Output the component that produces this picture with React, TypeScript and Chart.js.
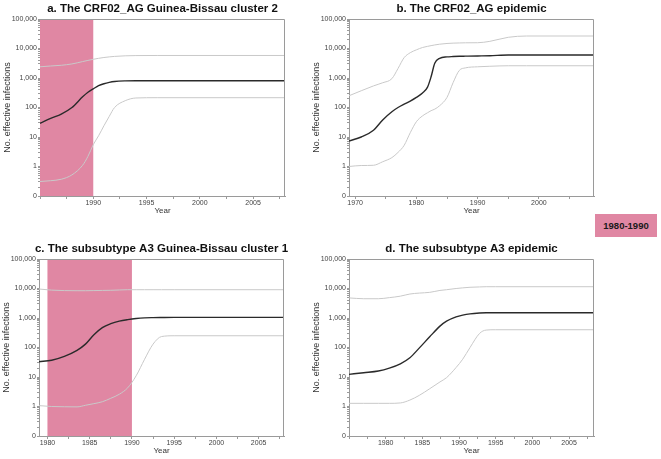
import React, { useEffect, useRef } from "react";
import Chart from "chart.js/auto";

// y axis ticks and their printed labels (0.1 is printed as "0")
const yTickValues = [0.1, 1, 10, 100, 1000, 10000, 100000];
const yTickLabels = ["0", "1", "10", "100", "1,000", "10,000", "100,000"];

// a. CRF02_AG Guinea-Bissau cluster 2
const yearsA = [1985, 1986, 1987, 1988, 1989, 1989.5, 1990, 1990.5, 1991, 1991.5, 1992, 1993, 1994, 1996, 2008];
const meanA = [29, 43, 60, 100, 230, 330, 430, 550, 640, 710, 760, 800, 810, 810, 810];
const upperA = [2400, 2550, 2700, 3000, 3600, 3950, 4300, 4650, 4950, 5200, 5400, 5650, 5750, 5800, 5800];
const lowerA = [0.31, 0.33, 0.37, 0.52, 1.1, 2.2, 5.5, 11, 24, 50, 100, 170, 210, 215, 215];
const xTicksA = [1990, 1995, 2000, 2005];

// b. CRF02_AG epidemic
const yearsB = [1969, 1971, 1973, 1974.5, 1976, 1977, 1978, 1979, 1980, 1981, 1981.8, 1982.4, 1983, 1983.8, 1985, 1986, 1987, 1988, 1990, 1992, 1995, 1998, 2009];
const meanB = [7.3, 10, 17, 38, 72, 100, 130, 165, 220, 310, 480, 1100, 3150, 4650, 5200, 5350, 5450, 5500, 5600, 5700, 6000, 6000, 6000];
const upperB = [250, 370, 540, 690, 950, 2100, 4900, 7200, 9000, 10800, 11800, 12500, 13200, 14000, 14800, 15200, 15400, 15600, 15700, 17500, 24000, 26500, 26500];
const lowerB = [1.0, 1.08, 1.1, 1.45, 2.0, 3.0, 5.2, 14, 33, 52, 66, 78, 88, 115, 220, 700, 1800, 2200, 2400, 2500, 2600, 2600, 2600];
const xTicksB = [1970, 1980, 1990, 2000];

// c. subsubtype A3 Guinea-Bissau cluster 1
const yearsC = [1979, 1980.5, 1982, 1983.5, 1984.5, 1985.5, 1986.5, 1987.5, 1988.5, 1989.5, 1990.5, 1991.5, 1992.5, 1993.5, 1995, 2008];
const meanC = [33, 37, 50, 80, 130, 270, 470, 640, 780, 880, 960, 1010, 1030, 1040, 1050, 1050];
const upperC = [9600, 8800, 8500, 8400, 8400, 8500, 8600, 8700, 8900, 9100, 9100, 9100, 9100, 9100, 9100, 9100];
const lowerC = [1.07, 1.0, 0.98, 0.97, 1.1, 1.25, 1.45, 1.9, 2.6, 4.3, 11, 40, 130, 235, 250, 250];
const xTicksC = [1980, 1985, 1990, 1995, 2000, 2005];

// d. subsubtype A3 epidemic
const yearsD = [1975, 1977, 1979, 1980.5, 1982, 1983.3, 1984.6, 1986, 1987.4, 1988.3, 1989.6, 1990.5, 1991.5, 1992.8, 1993.7, 1995, 2008.4];
const meanD = [12.3, 14, 16, 20, 28, 45, 97, 230, 530, 780, 1090, 1250, 1380, 1470, 1500, 1500, 1500];
const upperD = [4800, 4500, 4500, 4900, 5500, 6500, 7000, 7400, 8600, 9100, 10000, 10500, 11000, 11300, 11500, 11500, 11500];
const lowerD = [1.28, 1.28, 1.28, 1.28, 1.32, 1.65, 2.4, 4, 6.8, 9.5, 21, 40, 100, 300, 390, 400, 400];
const xTicksD = [1980, 1985, 1990, 1995, 2000, 2005];

// shaded period 1980-1990
const shadeStart = 1980;
const shadeEnd = 1990;
const shadeLabel = "1980-1990";

const PINK = "#e087a3";
const FONT = "'Liberation Sans', Arial, sans-serif";

const shadePlugin = {
  id: "shade",
  beforeDatasetsDraw(chart: any, _args: any, opts: any) {
    if (!opts || !opts.show) return;
    const { ctx, chartArea, scales } = chart;
    const x0 = Math.max(scales.x.getPixelForValue(shadeStart), chartArea.left);
    const x1 = scales.x.getPixelForValue(shadeEnd);
    ctx.save();
    ctx.fillStyle = PINK;
    ctx.fillRect(x0, chartArea.top, x1 - x0, chartArea.bottom - chartArea.top);
    ctx.restore();
  },
};

const framePlugin = {
  id: "frame",
  afterDatasetsDraw(chart: any) {
    const { ctx, chartArea } = chart;
    ctx.save();
    ctx.strokeStyle = "#9a9a9a";
    ctx.lineWidth = 1;
    ctx.beginPath();
    ctx.moveTo(chartArea.left, chartArea.top + 0.5);
    ctx.lineTo(chartArea.right - 0.5, chartArea.top + 0.5);
    ctx.lineTo(chartArea.right - 0.5, chartArea.bottom);
    ctx.stroke();
    ctx.restore();
  },
};

const minorLog: number[] = [];
for (let d = 0.1; d < 100000; d *= 10) {
  for (let k = 1; k < 10; k++) minorLog.push(Math.round(d * k * 1000) / 1000);
}
minorLog.push(100000);

interface PanelProps {
  title: string;
  years: number[];
  mean: number[];
  upper: number[];
  lower: number[];
  xMin: number;
  xMax: number;
  xStep: number;
  xTicks: number[];
  shaded: boolean;
  style: React.CSSProperties;
}

const Panel: React.FC<PanelProps> = ({ title, years, mean, upper, lower, xMin, xMax, xStep, xTicks, shaded, style }) => {
  const chartRef = useRef<HTMLCanvasElement | null>(null);

  useEffect(() => {
    if (!chartRef.current) return;
    const pts = (vals: number[]) => years.map((x, i) => ({ x, y: vals[i] }));
    const allX: number[] = [];
    for (let v = Math.ceil(xMin / xStep) * xStep; v <= xMax; v += xStep) allX.push(v);

    const chart = new Chart(chartRef.current, {
      type: "line",
      data: {
        datasets: [
          { data: pts(upper), borderColor: "#c9c9c9", borderWidth: 1, pointRadius: 0, cubicInterpolationMode: "monotone" },
          { data: pts(lower), borderColor: "#c9c9c9", borderWidth: 1, pointRadius: 0, cubicInterpolationMode: "monotone" },
          { data: pts(mean), borderColor: "#2a2a2a", borderWidth: 1.4, pointRadius: 0, cubicInterpolationMode: "monotone" },
        ],
      },
      options: {
        animation: false,
        responsive: false,
        events: [],
        layout: { padding: 0 },
        plugins: {
          legend: { display: false },
          tooltip: { enabled: false },
          title: {
            display: true,
            text: title,
            color: "#111",
            font: { family: FONT, size: 11.5, weight: "bold" },
            padding: { top: 1.5, bottom: 3.7 },
          },
          shade: { show: shaded },
        } as any,
        scales: {
          x: {
            type: "linear",
            min: xMin,
            max: xMax,
            afterFit: (s: any) => {
              s.height = 33;
            },
            afterBuildTicks: (s: any) => {
              s.ticks = allX.map((value) => ({ value }));
            },
            ticks: {
              autoSkip: false,
              maxRotation: 0,
              padding: 0,
              color: "#444",
              font: { family: FONT, size: 7 },
              callback: (v: any) => (xTicks.includes(Number(v)) ? String(v) : ""),
            },
            grid: { drawOnChartArea: false, drawTicks: true, tickLength: 3, color: "#9a9a9a" },
            border: { display: true, color: "#9a9a9a" },
            title: {
              display: true,
              text: "Year",
              color: "#333",
              font: { family: FONT, size: 8 },
              padding: { top: 0, bottom: 13 },
            },
          },
          y: {
            type: "logarithmic",
            min: 0.1,
            max: 100000,
            afterFit: (s: any) => {
              s.width = 40;
            },
            afterBuildTicks: (s: any) => {
              s.ticks = minorLog.map((value) => ({ value }));
            },
            ticks: {
              autoSkip: false,
              padding: 1,
              color: "#444",
              font: { family: FONT, size: 7 },
              callback: (v: any) => {
                const i = yTickValues.findIndex((t) => Math.abs(t - Number(v)) < 1e-6);
                return i >= 0 ? yTickLabels[i] : "";
              },
            },
            grid: { drawOnChartArea: false, drawTicks: true, tickLength: 2, color: "#9a9a9a" },
            border: { display: true, color: "#9a9a9a" },
            title: {
              display: true,
              text: "No. effective infections",
              color: "#333",
              font: { family: FONT, size: 9 },
              padding: { top: 2, bottom: 0 },
            },
          },
          // empty right-hand axis so the plot sits centred under the title
          yRight: {
            type: "linear",
            position: "right",
            display: true,
            afterFit: (s: any) => {
              s.width = 40;
            },
            ticks: { display: false },
            grid: { display: false },
            border: { display: false },
          },
        },
      },
      plugins: [shadePlugin, framePlugin],
    });

    return () => {
      chart.destroy();
    };
  }, [title, years, mean, upper, lower, xMin, xMax, xStep, xTicks, shaded]);

  return (
    <div style={{ position: "absolute", width: 325, height: 229, ...style }}>
      <canvas ref={chartRef} width={325} height={229} style={{ width: 325, height: 229, display: "block" }} />
    </div>
  );
};

const App: React.FC = () => {
  return (
    <div
      style={{
        position: "absolute",
        left: 0,
        top: 0,
        width: 661,
        height: 459,
        overflow: "hidden",
        background: "#fff",
        fontFamily: FONT,
      }}
    >
      <Panel
        title="a. The CRF02_AG Guinea-Bissau cluster 2"
        years={yearsA}
        mean={meanA}
        upper={upperA}
        lower={lowerA}
        xMin={1985}
        xMax={2008}
        xStep={2.5}
        xTicks={xTicksA}
        shaded={true}
        style={{ left: 0, top: 0 }}
      />
      <Panel
        title="b. The CRF02_AG epidemic"
        years={yearsB}
        mean={meanB}
        upper={upperB}
        lower={lowerB}
        xMin={1969}
        xMax={2009}
        xStep={5}
        xTicks={xTicksB}
        shaded={false}
        style={{ left: 309, top: 0 }}
      />
      <Panel
        title="c. The subsubtype A3 Guinea-Bissau cluster 1"
        years={yearsC}
        mean={meanC}
        upper={upperC}
        lower={lowerC}
        xMin={1979}
        xMax={2008}
        xStep={2.5}
        xTicks={xTicksC}
        shaded={true}
        style={{ left: -1, top: 240 }}
      />
      <Panel
        title="d. The subsubtype A3 epidemic"
        years={yearsD}
        mean={meanD}
        upper={upperD}
        lower={lowerD}
        xMin={1975}
        xMax={2008.4}
        xStep={2.5}
        xTicks={xTicksD}
        shaded={false}
        style={{ left: 309, top: 240 }}
      />
      <div
        style={{
          position: "absolute",
          zIndex: 2,
          left: 595,
          top: 214,
          width: 62,
          height: 23,
          background: PINK,
          color: "#1a1a1a",
          fontWeight: "bold",
          fontSize: 9.5,
          display: "flex",
          alignItems: "center",
          justifyContent: "center",
        }}
      >
        {shadeLabel}
      </div>
    </div>
  );
};

export default App;
